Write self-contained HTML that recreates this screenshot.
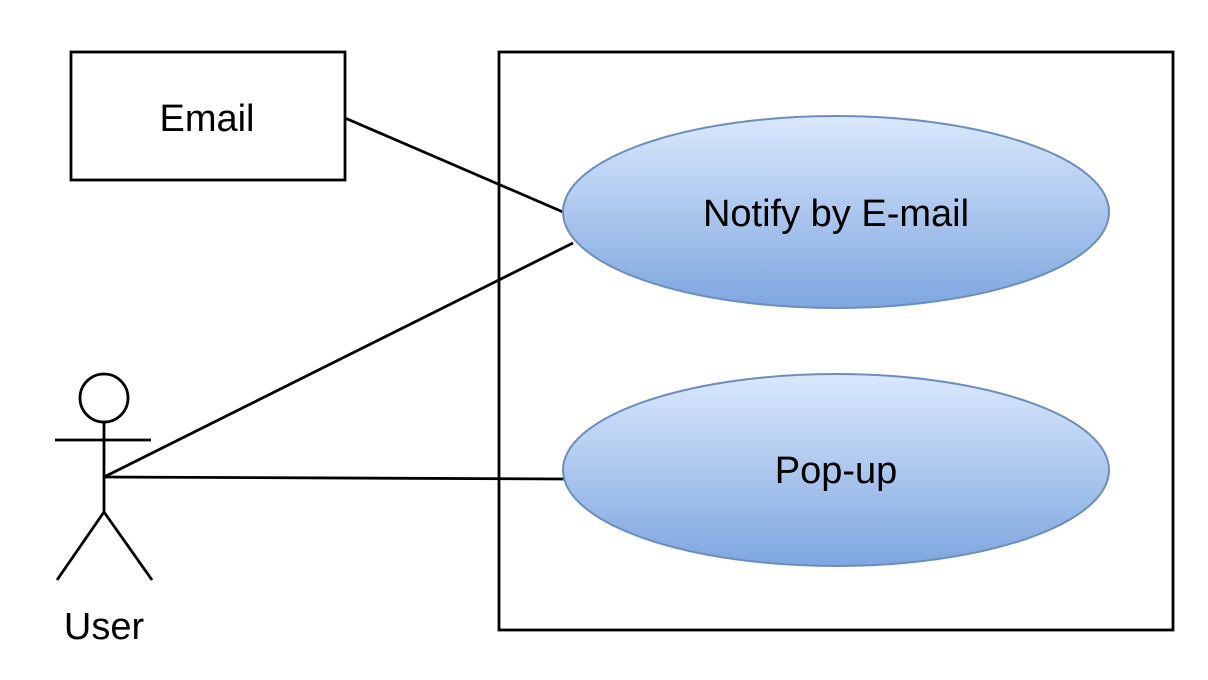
<!DOCTYPE html>
<html><head><style>html,body{margin:0;padding:0;background:#fff;}svg{display:block;}</style></head>
<body>
<svg width="1208" height="680" viewBox="0 0 1208 680" xmlns="http://www.w3.org/2000/svg">
<defs>
<linearGradient id="g" x1="0" y1="0" x2="0" y2="1">
<stop offset="0" stop-color="#dae8fc"/>
<stop offset="1" stop-color="#7ea6e0"/>
</linearGradient>
</defs>
<rect x="0" y="0" width="1208" height="680" fill="#fff"/>
<rect x="499" y="52" width="674" height="578" fill="none" stroke="#000" stroke-width="2.8"/>
<rect x="71" y="52" width="274" height="128" fill="#fff" stroke="#000" stroke-width="2.8"/>
<text x="207" y="131" font-family="Liberation Sans, sans-serif" font-size="38" text-anchor="middle">Email</text>
<line x1="345" y1="118" x2="563" y2="212" stroke="#000" stroke-width="2.8"/>
<line x1="104" y1="477" x2="573" y2="243" stroke="#000" stroke-width="2.8"/>
<line x1="104" y1="477" x2="566" y2="479" stroke="#000" stroke-width="2.8"/>
<ellipse cx="836" cy="212" rx="273" ry="96" fill="url(#g)" stroke="#6c8ebf" stroke-width="2"/>
<text x="836" y="226" font-family="Liberation Sans, sans-serif" font-size="38" text-anchor="middle">Notify by E-mail</text>
<ellipse cx="836" cy="470" rx="273" ry="96" fill="url(#g)" stroke="#6c8ebf" stroke-width="2"/>
<text x="836" y="483" font-family="Liberation Sans, sans-serif" font-size="38" text-anchor="middle">Pop-up</text>
<g stroke="#000" stroke-width="2.8" fill="none">
<circle cx="104" cy="398" r="24" fill="#fff"/>
<line x1="104" y1="422" x2="104" y2="512"/>
<line x1="55" y1="440" x2="151" y2="440"/>
<line x1="104" y1="512" x2="57" y2="580"/>
<line x1="104" y1="512" x2="152" y2="580"/>
</g>
<text x="104" y="639" font-family="Liberation Sans, sans-serif" font-size="38" text-anchor="middle">User</text>
</svg>
</body></html>
